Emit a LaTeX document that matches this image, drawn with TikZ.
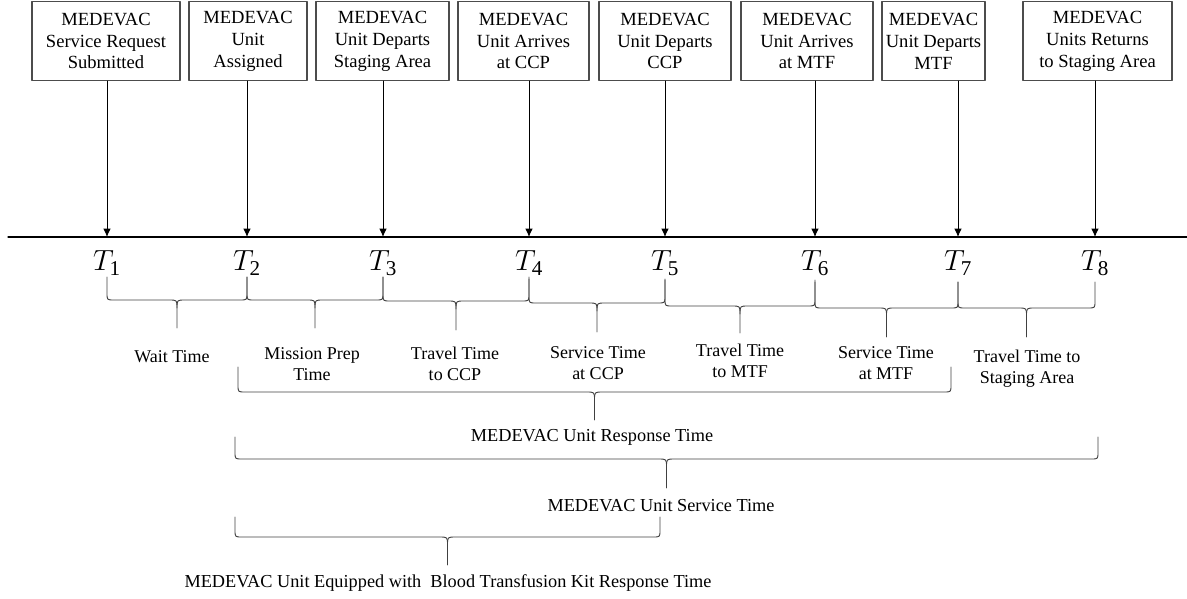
\documentclass[tikz,border=0pt]{standalone}
\usepackage{fontspec}
\setmainfont{Liberation Serif}
\usetikzlibrary{arrows.meta}

\tikzset{
  event/.style={draw=black!70, line width=0.8pt, minimum height=1.975cm,
    inner sep=0pt, align=center, font=\fontsize{13.2}{15.6}\selectfont},
  axisline/.style={line width=0.9pt},
  tickarrow/.style={line width=0.7pt, -{Latex[length=2.1mm,width=1.9mm]}},
  tname/.style={inner sep=0pt, font=\fontsize{19.5}{22}\selectfont},
  braceline/.style={draw=black!75, line width=0.65pt},
  timelabel/.style={align=center, inner sep=0pt, font=\fontsize{12.8}{15}\selectfont},
  totallabel/.style={inner sep=0pt, font=\fontsize{13}{15}\selectfont}
}

% brace: left x, right x, top y, bar y, tip y (pixel units)
\newcommand{\timebrace}[5]{%
  \pgfmathsetmacro{\bmid}{(#1+#2)/2}
  \draw[braceline] (#1,#3) -- (#1,#4-7) .. controls (#1,#4) .. (#1+7,#4)
    -- (\bmid-8,#4) .. controls (\bmid,#4) .. (\bmid,#4+8) -- (\bmid,#5);
  \draw[braceline] (#2,#3) -- (#2,#4-7) .. controls (#2,#4) .. (#2-7,#4)
    -- (\bmid+8,#4) .. controls (\bmid,#4) .. (\bmid,#4+8);
}

\begin{document}
\begin{tikzpicture}[x=0.025cm, y=-0.025cm, line cap=round, line join=round]
  \useasboundingbox (0,0) rectangle (1187,598);

  % events
  \node[event, minimum width=3.7cm]   (b1) at (106,41)    {MEDEVAC\\Service Request\\Submitted};
  \node[event, minimum width=2.95cm]  (b2) at (248,41)    {MEDEVAC\\Unit\\Assigned};
  \node[event, minimum width=3.325cm] (b3) at (382.5,41)  {MEDEVAC\\Unit Departs\\Staging Area};
  \node[event, minimum width=3.275cm] (b4) at (523.5,41)  {MEDEVAC\\Unit Arrives\\at CCP};
  \node[event, minimum width=3.3cm]   (b5) at (665,41)    {MEDEVAC\\Unit Departs\\CCP};
  \node[event, minimum width=3.3cm]   (b6) at (807,41)    {MEDEVAC\\Unit Arrives\\at MTF};
  \node[event, minimum width=2.575cm] (b7) at (933.5,41)  {MEDEVAC\\Unit Departs\\MTF};
  \node[event, minimum width=3.725cm] (b8) at (1097.5,41) {MEDEVAC\\Units Returns\\to Staging Area};

  % time axis
  \coordinate (axisL) at (8,237);
  \coordinate (axisR) at (1187,237);
  \draw[axisline] (axisL) -- (axisR);

  \foreach \i/\x in {1/107,2/247,3/383,4/529,5/665,6/815,7/958,8/1095}{
    \coordinate (t\i) at (\x,237);
    \draw[tickarrow] (b\i.south -| t\i) -- (t\i);
    \node[tname] (T\i) at (\x,263) {$T_{\mbox{\fontsize{15}{15}\selectfont\i}}$};
  }

  % interval braces
  \timebrace{107}{247}{277}{300}{328}
  \timebrace{247}{383}{277}{300}{328}
  \timebrace{383}{529}{277}{301}{330}
  \timebrace{529}{665}{279}{303}{332}
  \timebrace{665}{815}{280}{306}{333}
  \timebrace{815}{958}{282}{308}{337}
  \timebrace{958}{1095}{282}{308}{337}

  \node[timelabel] (wait)   at (172,357)  {Wait Time};
  \node[timelabel] (prep)   at (312,364)  {Mission Prep\\Time};
  \node[timelabel] (toccp)  at (455,364)  {Travel Time\\to CCP};
  \node[timelabel] (atccp)  at (598,363)  {Service Time\\at CCP};
  \node[timelabel] (tomtf)  at (740,361)  {Travel Time\\to MTF};
  \node[timelabel] (atmtf)  at (886,363)  {Service Time\\at MTF};
  \node[timelabel] (tostage) at (1027,369) {Travel Time to\\Staging Area};

  % total times
  \timebrace{238}{951}{367}{392}{420}
  \timebrace{235}{1098}{437}{459}{488}
  \timebrace{235}{660}{517}{537}{565}

  \node[totallabel] (resp)  at (592,437) {MEDEVAC Unit Response Time};
  \node[totallabel] (serv)  at (661,506) {MEDEVAC Unit Service Time};
  \node[totallabel] (blood) at (448,583) {MEDEVAC Unit Equipped with~ Blood Transfusion Kit Response Time};
\end{tikzpicture}
\end{document}
